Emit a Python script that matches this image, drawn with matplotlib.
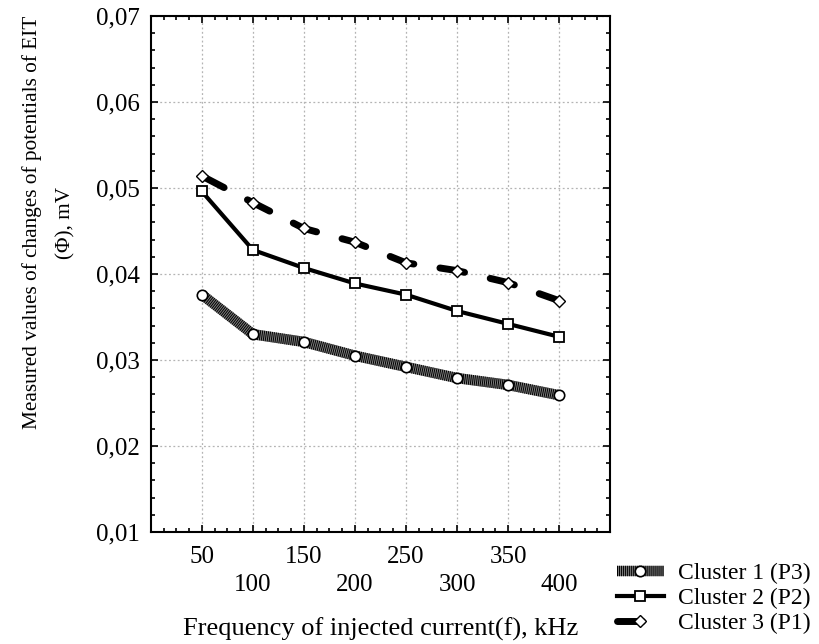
import numpy as np
import matplotlib.pyplot as plt
from matplotlib.ticker import MultipleLocator, FuncFormatter

plt.rcParams['font.family'] = ['Liberation Serif', 'DejaVu Serif']

# data
freqs = ['50', '100', '150', '200', '250', '300', '350', '400']
cluster1 = [0.0376, 0.0330, 0.0321, 0.0305, 0.0292, 0.0279, 0.0271, 0.0259]
cluster2 = [0.0496, 0.0428, 0.0407, 0.0389, 0.0376, 0.0357, 0.0342, 0.0327]
cluster3 = [0.0514, 0.0483, 0.0453, 0.0437, 0.0413, 0.0404, 0.0390, 0.0369]
labels = ['Cluster 1 (P3)', 'Cluster 2 (P2)', 'Cluster 3 (P1)']

fs_tick = 18
x = np.arange(1, len(freqs) + 1)

fig = plt.figure(figsize=(8.2, 6.44), dpi=100)
ax = fig.add_axes([0.184, 0.174, 0.560, 0.801])

# cluster 1: thick hatched band with open circles
c1_bg, = ax.plot(x, cluster1, color='#808080', lw=7.5, solid_capstyle='butt', zorder=3)
c1_fg, = ax.plot(x, cluster1, color='black', lw=7.5, linestyle=(0, (0.095, 0.095)),
                 dash_capstyle='butt', zorder=3)
c1_mk, = ax.plot(x, cluster1, linestyle='none', marker='o', ms=7.5, mfc='white',
                 mec='black', mew=1.2, zorder=5)

# cluster 2: solid line with squares
c2, = ax.plot(x, cluster2, color='black', lw=3, marker='s', ms=7, mfc='white',
              mec='black', mew=1.3, zorder=4)

# cluster 3: heavy dashed line with diamonds
c3_line, = ax.plot(x, cluster3, color='black', lw=5, linestyle=(0, (3.6, 3.8)),
                   dash_capstyle='round', zorder=3)
c3_mk, = ax.plot(x, cluster3, linestyle='none', marker='D', ms=6.5, mfc='white',
                 mec='black', mew=1.0, zorder=5)

ax.set_xlim(0, 9)
ax.set_ylim(0.01, 0.07)
ax.set_xticks(x)
ax.set_xticklabels([f if i % 2 == 0 else '\n' + f for i, f in enumerate(freqs)],
                   fontsize=fs_tick, linespacing=1.38)
ax.xaxis.set_minor_locator(MultipleLocator(0.25))
ax.yaxis.set_major_locator(MultipleLocator(0.01))
ax.yaxis.set_minor_locator(MultipleLocator(0.002))
ax.yaxis.set_major_formatter(FuncFormatter(lambda v, p: f'{v:.2f}'.replace('.', ',')))
for t in ax.get_yticklabels():
    t.set_fontsize(fs_tick)

ax.tick_params(which='both', direction='in', top=True, right=True, width=1.2)
ax.tick_params(which='major', length=5, pad=8)
ax.tick_params(axis='x', which='major', pad=10)
ax.tick_params(which='minor', length=3)
for s in ax.spines.values():
    s.set_linewidth(1.5)

ax.grid(True, which='major', color='#b4b4b4', linestyle=(0, (1.5, 2)), lw=0.9)

ax.set_xlabel('Frequency of injected current(f), kHz', fontsize=19, labelpad=15)
ax.set_ylabel('Measured values of changes of potentials of EIT\n(\u03a6), mV',
              fontsize=15.3, linespacing=2.0)
ax.yaxis.set_label_coords(-0.165, 0.60)

fig.legend([(c1_bg, c1_fg, c1_mk), (c2,), (c3_line, c3_mk)], labels,
           loc='upper left', bbox_to_anchor=(0.752, 0.126), frameon=False,
           fontsize=17, handlelength=2.0, handletextpad=0.6, labelspacing=0.15,
           borderaxespad=0, borderpad=0)

fig.savefig('out.png', dpi=100)
